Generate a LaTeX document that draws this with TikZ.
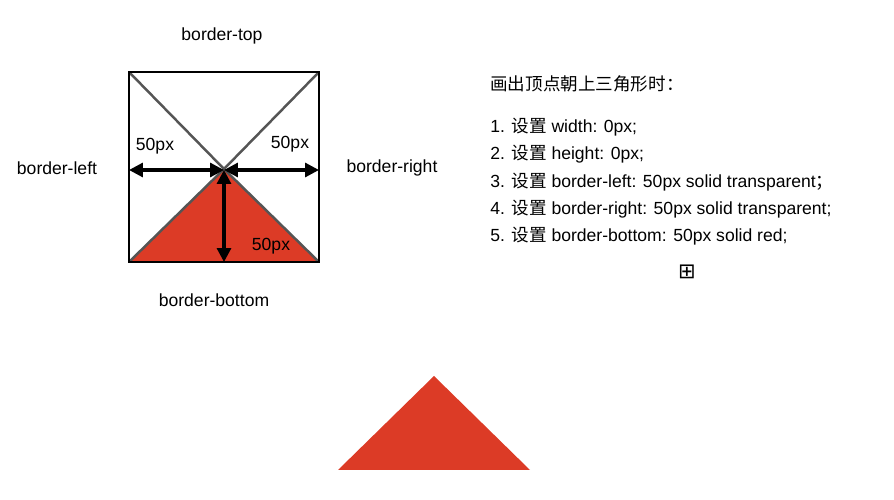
\documentclass[tikz,border=0pt]{standalone}
\usepackage{fontspec}
\usetikzlibrary{arrows.meta}
\setmainfont{Liberation Sans}
\newfontfamily\cjk{Noto Sans CJK SC}
\newfontfamily\djvfont{DejaVu Sans}
\definecolor{tri}{HTML}{DC3B26}
\definecolor{diag}{HTML}{555555}
\begin{document}
\begin{tikzpicture}[x=0.02cm,y=-0.02cm,
  lbl/.style={font=\fontsize{10}{12}\selectfont,inner sep=0},
  meas/.style={line width=1.8pt,{Triangle[length=2.8mm,width=2.8mm]}-{Triangle[length=2.8mm,width=2.8mm]}},
  ln/.style={lbl,anchor=west}]
\useasboundingbox (0,0) rectangle (894,500);
\coordinate (TL) at (129,72); \coordinate (TR) at (319,72);
\coordinate (BL) at (129,262); \coordinate (BR) at (319,262);
\coordinate (C) at (224,169);
\coordinate (L) at (129,170); \coordinate (R) at (319,170); \coordinate (D) at (224,262);
\coordinate (CL) at (224,170);
\fill[tri] (BL) -- (C) -- (BR) -- cycle;
\draw[diag,line width=1.4pt] (TL) -- (C) -- (BR) (TR) -- (C) -- (BL);
\draw[line width=1.1pt] (TL) rectangle (BR);
\draw[meas] (L) -- (CL);
\draw[meas] (CL) -- (R);
\draw[meas] (CL) -- (D);
\node[lbl] (t1) at (155,146) {50px};
\node[lbl] (t2) at (290,144) {50px};
\node[lbl] (t3) at (271,246) {50px};
\node[lbl] (bt) at (222,36) {border-top};
\node[lbl] (bl) at (57,168) {border-left};
\node[lbl] (br) at (392,168) {border-right};
\node[lbl] (bb) at (214,300) {border-bottom};
\node[ln] (h) at (490,84) {\cjk 画出顶点朝上三角形时：};
\node[ln] (a1) at (490,127) {1. {\cjk 设置} width: 0px;};
\node[ln] (a2) at (490,154) {2. {\cjk 设置} height: 0px;};
\node[ln] (a3) at (490,182) {3. {\cjk 设置} border-left: 50px solid transparent{\cjk ；}};
\node[ln] (a4) at (490,209) {4. {\cjk 设置} border-right: 50px solid transparent;};
\node[ln] (a5) at (490,236) {5. {\cjk 设置} border-bottom: 50px solid red;};
\node[lbl,font=\fontsize{12}{14}\selectfont] (plus) at (687,272) {\djvfont ⊞};
\fill[tri] (338,470) -- (434,376) -- (530,470) -- cycle;
\end{tikzpicture}
\end{document}
